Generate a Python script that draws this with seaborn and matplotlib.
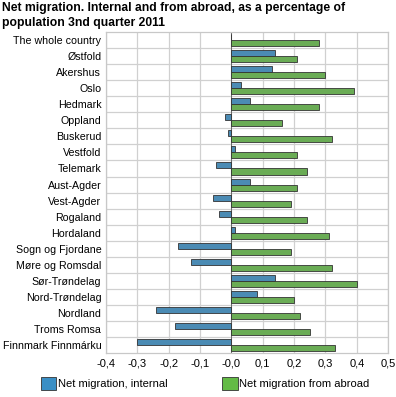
import pandas as pd
import matplotlib.pyplot as plt
import seaborn as sns
from matplotlib.patches import Patch

# Data (percent of population)
regions = ["The whole country", "Østfold", "Akershus", "Oslo", "Hedmark", "Oppland",
           "Buskerud", "Vestfold", "Telemark", "Aust-Agder", "Vest-Agder", "Rogaland",
           "Hordaland", "Sogn og Fjordane", "Møre og Romsdal", "Sør-Trøndelag",
           "Nord-Trøndelag", "Nordland", "Troms Romsa", "Finnmark Finnmárku"]
internal = [0.0, 0.14, 0.13, 0.03, 0.06, -0.02, -0.01, 0.01, -0.05, 0.06, -0.06, -0.04,
            0.01, -0.17, -0.13, 0.14, 0.08, -0.24, -0.18, -0.30]
abroad = [0.28, 0.21, 0.30, 0.39, 0.28, 0.16, 0.32, 0.21, 0.24, 0.21, 0.19, 0.24,
          0.31, 0.19, 0.32, 0.40, 0.20, 0.22, 0.25, 0.33]
series = ["Net migration, internal", "Net migration from abroad"]
xticks = [-0.4, -0.3, -0.2, -0.1, 0.0, 0.1, 0.2, 0.3, 0.4, 0.5]
xtick_labels = ["-0,4", "-0,3", "-0,2", "-0,1", "-0,0", "0,1", "0,2", "0,3", "0,4", "0,5"]
colors = ["#3a8fc5", "#63bb46"]

plt.rcParams["font.family"] = ["Liberation Sans", "DejaVu Sans"]

df = pd.DataFrame({
    "region": regions * 2,
    "value": internal + abroad,
    "series": [series[0]] * len(regions) + [series[1]] * len(regions),
})

fig = plt.figure(figsize=(3.96, 3.97), dpi=100)
ax = fig.add_axes([0.268, 0.111, 0.712, 0.808])

sns.barplot(data=df, x="value", y="region", hue="series", order=regions,
            hue_order=series, palette=colors, orient="h", width=0.75,
            edgecolor="#333333", linewidth=0.6, legend=False, ax=ax)

ax.set_xlim(-0.4, 0.5)
ax.set_ylim(len(regions) - 0.5, -0.5)
ax.set_xticks(xticks)
ax.set_xticklabels(xtick_labels, fontsize=8)
ax.tick_params(axis="y", labelsize=7.7, length=0, pad=3.5)
ax.tick_params(axis="x", length=0, pad=4)
ax.set_xlabel("")
ax.set_ylabel("")

# grid: vertical at ticks, horizontal between categories
ax.set_axisbelow(True)
for x in xticks:
    ax.axvline(x, color="#d0d0d0", lw=0.9, zorder=0)
for i in range(len(regions) - 1):
    ax.axhline(i + 0.5, color="#d0d0d0", lw=0.9, zorder=0)
ax.axvline(0, color="#555555", lw=0.6, zorder=0.5)
for s in ax.spines.values():
    s.set_color("#c8c8c8")
    s.set_linewidth(0.9)

fig.text(0.006, 0.995, "Net migration. Internal and from abroad, as a percentage of\npopulation 3nd quarter 2011",
         ha="left", va="top", fontsize=8.7, fontweight="bold", linespacing=1.3)

handles = [Patch(facecolor=c, edgecolor="#333333", linewidth=0.6) for c in colors]
fig.legend(handles, series, loc="center left", bbox_to_anchor=(0.103, 0.035), ncol=2,
           frameon=False, fontsize=8, handlelength=1.4, handleheight=1.4,
           handletextpad=0.15, columnspacing=4.9, borderaxespad=0, borderpad=0)

fig.savefig("out.png", dpi=100)
